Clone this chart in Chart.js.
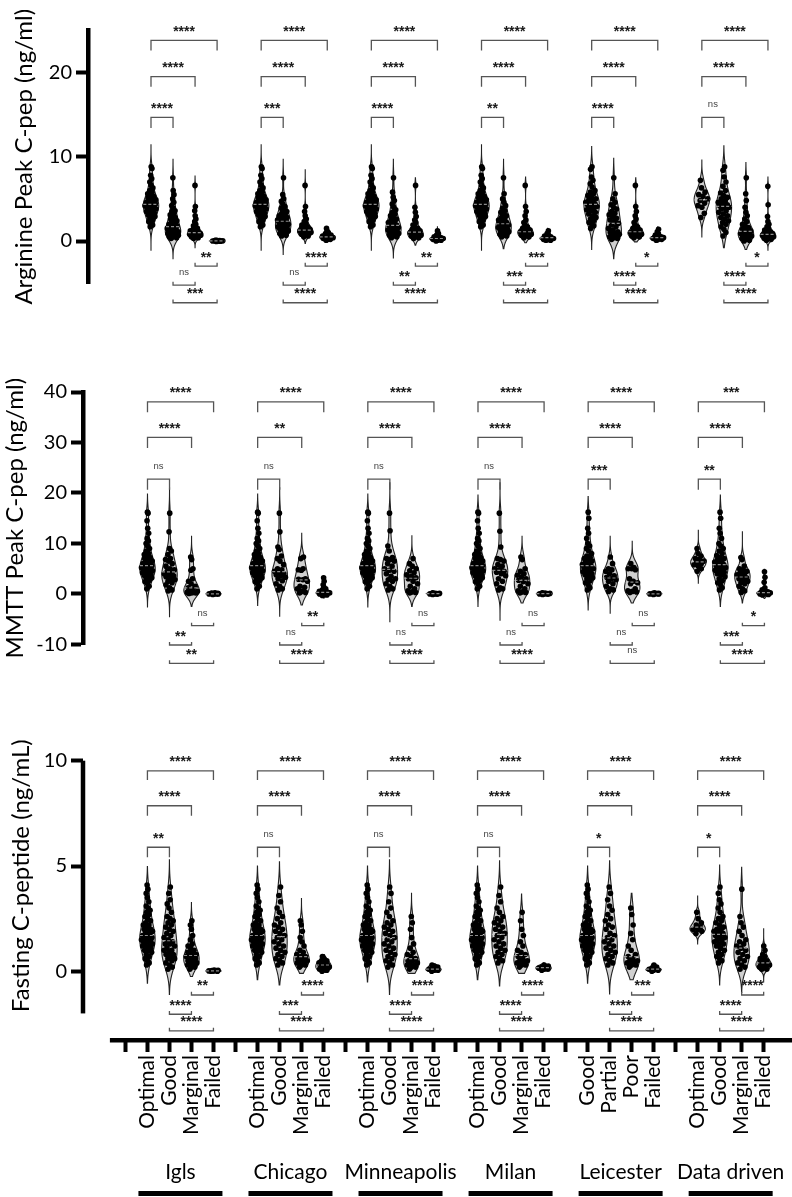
<!DOCTYPE html>
<html><head><meta charset="utf-8">
<script src="https://cdn.jsdelivr.net/npm/chart.js@4.4.1/dist/chart.umd.min.js"></script>
<style>
html,body{margin:0;padding:0;background:#fff;}
#wrap{position:relative;width:792px;height:1197px;overflow:hidden;background:#fff}
canvas{position:absolute;left:0}
</style></head><body>
<div id="wrap">
<canvas id="c1" width="792" height="325" style="top:0px"></canvas>
<canvas id="c2" width="792" height="355" style="top:325px"></canvas>
<canvas id="c3" width="792" height="517" style="top:680px"></canvas>
</div>
<script>
// ---------------- DATA ----------------
const siteNames = ['Igls', 'Chicago', 'Minneapolis', 'Milan', 'Leicester', 'Data driven'];
const tickLabels = ['', 'Optimal', 'Good', 'Marginal', 'Failed',
  '', 'Optimal', 'Good', 'Marginal', 'Failed',
  '', 'Optimal', 'Good', 'Marginal', 'Failed',
  '', 'Optimal', 'Good', 'Marginal', 'Failed',
  '', 'Good', 'Partial', 'Poor', 'Failed',
  '', 'Optimal', 'Good', 'Marginal', 'Failed'];
// significance order: [1v2, 1v3, 1v4, 3v4, 2v3, 2v4]
const argSig = [['****','****','****','**','ns','***'], ['***','****','****','****','ns','****'], ['****','****','****','**','**','****'],
  ['**','****','****','***','***','****'], ['****','****','****','*','****','****'], ['ns','****','****','*','****','****']];
const mmttSig = [['ns','****','****','ns','**','**'], ['ns','**','****','**','ns','****'], ['ns','****','****','ns','ns','****'],
  ['ns','****','****','ns','ns','****'], ['***','****','****','ns','ns','ns'], ['**','****','***','*','***','****']];
const fastSig = [['**','****','****','**','****','****'], ['ns','****','****','****','***','****'], ['ns','****','****','****','****','****'],
  ['ns','****','****','****','****','****'], ['*','****','****','***','****','****'], ['*','****','****','****','****','****']];

// Arginine peak C-peptide (ng/ml)
const argOptimal = [8.8,8.6,7.8,7.4,7.0,6.6,6.3,6.0,5.8,5.6,5.4,5.3,5.1,5.0,4.9,4.8,4.7,4.6,4.5,4.4,4.4,4.3,4.2,4.2,4.1,4.0,3.9,3.8,3.7,3.6,3.5,3.4,3.3,3.1,3.0,2.9,2.7,2.5,2.3,2.1,1.9,1.7];
const argIgls = [argOptimal,
  [7.5,6.0,5.5,5.0,4.6,4.2,3.9,3.6,3.5,3.3,3.1,3.0,2.8,2.6,2.5,2.4,2.2,2.1,2.0,1.9,1.8,1.7,1.6,1.5,1.4,1.3,1.2,1.2,1.1,1.0,1.0,0.9,0.9,0.8,0.8,0.7,0.7,0.6,0.6,0.5,0.5,0.4,0.3],
  [6.6,4.1,3.6,3.0,2.6,2.3,2.0,1.8,1.6,1.5,1.4,1.3,1.2,1.1,1.1,1.0,1.0,0.9,0.9,0.9,0.8,0.8,0.8,0.7,0.7,0.7,0.6,0.6,0.5,0.5,0.4,0.3],
  [0.1,0.08,0.05,0.05,0.03,0.02,0.01,0,0,0,-0.02,-0.05]];
const argChicago = [argOptimal,
  [7.5,5.5,5.0,4.7,4.4,4.1,3.9,3.7,3.5,3.3,3.2,3.0,2.9,2.8,2.7,2.6,2.5,2.4,2.3,2.2,2.1,2.0,1.9,1.8,1.7,1.6,1.5,1.4,1.3,1.2,1.1,1.0,0.9,0.8,0.7,0.6],
  [6.6,4.1,3.5,3.0,2.6,2.3,2.1,1.9,1.8,1.7,1.6,1.5,1.4,1.3,1.3,1.2,1.2,1.1,1.1,1.0,1.0,0.9,0.9,0.8,0.7,0.6,0.5],
  [1.5,1.2,1.0,0.9,0.8,0.7,0.7,0.6,0.6,0.5,0.5,0.5,0.4,0.4,0.4,0.3,0.3,0.2,0.2,0.1]];
const argMinneapolis = [argOptimal,
  [7.5,5.8,5.2,4.8,4.4,4.0,3.7,3.4,3.2,3.0,2.8,2.6,2.5,2.3,2.2,2.0,1.9,1.8,1.7,1.6,1.5,1.4,1.3,1.2,1.1,1.0,1.0,0.9,0.8,0.8,0.7,0.6,0.5,0.4],
  [6.6,4.0,3.4,2.9,2.5,2.2,1.9,1.7,1.5,1.4,1.3,1.2,1.1,1.0,1.0,0.9,0.9,0.8,0.8,0.7,0.7,0.6,0.6,0.5,0.4,0.3],
  [1.2,0.9,0.7,0.6,0.5,0.4,0.4,0.3,0.3,0.3,0.2,0.2,0.2,0.1,0.1,0.0]];
const argMilan = [argOptimal,
  [7.5,5.6,5.0,4.6,4.2,3.9,3.6,3.4,3.2,3.0,2.8,2.6,2.5,2.4,2.2,2.1,2.0,1.9,1.8,1.7,1.6,1.5,1.4,1.3,1.2,1.1,1.0,0.9,0.8,0.7,0.6,0.5],
  [6.6,4.1,3.5,3.0,2.5,2.2,1.9,1.7,1.5,1.4,1.3,1.2,1.1,1.1,1.0,1.0,0.9,0.9,0.8,0.8,0.7,0.7,0.6,0.5,0.4],
  [1.2,0.9,0.7,0.6,0.5,0.5,0.4,0.4,0.3,0.3,0.3,0.2,0.2,0.1,0.1]];
const argLeicester = [
  [8.8,8.5,7.6,7.2,6.8,6.4,6.0,5.8,5.6,5.4,5.2,5.0,4.9,4.8,4.6,4.5,4.4,4.3,4.2,4.1,4.0,3.9,3.7,3.6,3.4,3.2,3.0,2.8,2.6,2.4,2.2,2.0,1.8,1.5],
  [7.5,5.6,5.0,4.6,4.3,4.0,3.8,3.5,3.3,3.1,2.9,2.7,2.5,2.3,2.1,1.9,1.7,1.5,1.3,1.1,1.0,0.9,0.8,0.7,0.6,0.5,0.4,0.3,0.2],
  [6.6,4.1,3.5,3.0,2.6,2.2,1.9,1.7,1.5,1.4,1.3,1.2,1.1,1.0,1.0,0.9,0.9,0.8,0.8,0.7,0.7,0.6,0.6,0.5,0.4],
  [1.4,1.1,0.9,0.7,0.6,0.5,0.5,0.4,0.4,0.3,0.3,0.3,0.2,0.2,0.1]];
const argDataDriven = [
  [7.2,6.3,5.8,5.5,5.3,5.0,4.8,4.5,4.2,4.0,3.3,2.8],
  [8.8,8.4,7.6,7.0,6.5,6.0,5.7,5.4,5.2,5.0,4.8,4.6,4.5,4.3,4.2,4.1,4.0,3.8,3.6,3.4,3.2,3.0,2.8,2.6,2.4,2.2,2.0,1.7,1.4,1.0,0.6],
  [7.5,5.6,4.8,4.0,3.4,3.0,2.6,2.3,2.0,1.8,1.6,1.4,1.3,1.2,1.1,1.0,0.9,0.8,0.8,0.7,0.6,0.6,0.5,0.4,0.3,0.2,0.1,0.0],
  [6.5,4.3,2.9,2.3,2.0,1.7,1.5,1.3,1.2,1.1,1.0,0.9,0.9,0.8,0.8,0.7,0.7,0.6,0.6,0.5,0.5,0.4,0.4,0.3,0.3,0.2,0.1]];
const argSpan = [
  [[-1.1,11.4],[-2.1,9.7],[-0.8,7.7],[-0.15,0.15]],
  [[-1.1,11.4],[-1.6,9.7],[-0.3,8.5],[-0.1,1.7]],
  [[-1.1,11.4],[-2.0,9.7],[-0.5,7.5],[-0.1,1.7]],
  [[-1.1,11.4],[-0.9,9.7],[-0.2,7.6],[-0.1,1.5]],
  [[-1.0,11.2],[-2.1,9.8],[-0.1,7.5],[-0.1,1.7]],
  [[0.5,9.6],[-0.8,11.3],[-1.0,9.3],[-1.1,7.6]]];

// MMTT peak C-peptide (ng/ml)
const mmttOptimal = [16.2,16.0,14.5,13.0,12.0,11.0,10.5,10.0,9.5,9.0,8.5,8.0,7.8,7.5,7.2,7.0,6.8,6.5,6.3,6.1,6.0,5.8,5.6,5.5,5.4,5.2,5.0,5.0,4.9,4.8,4.6,4.5,4.4,4.2,4.0,3.8,3.6,3.4,3.2,3.0,2.7,2.4,2.0,1.5,1.0];
const mmttIgls = [mmttOptimal,
  [16.0,12.3,9.0,8.5,7.8,7.0,6.8,6.5,6.0,5.5,5.0,4.8,4.5,4.2,4.0,3.8,3.6,3.4,3.0,2.8,2.5,2.2,1.8,1.2,0.8,0.6],
  [7.3,6.8,5.0,4.7,3.0,2.5,2.0,1.5,1.2,0.8,0.5,0.4,0.3,0.3,0.2,0.2,0.1],
  [0.2,0.1,0.1,0.05,0,0,0,-0.1,0.15,0.0]];
const mmttChicago = [mmttOptimal,
  [16.0,12.3,9.3,8.8,7.5,7.0,6.5,5.8,5.0,4.8,4.5,4.3,4.0,3.8,3.6,3.3,3.0,2.6,2.0,1.5,1.0,0.8],
  [7.3,7.0,5.0,4.8,4.7,3.0,2.9,2.8,2.5,1.5,1.3,1.0,0.5,0.3,0.2],
  [3.2,2.5,1.8,1.3,1.0,0.8,0.6,0.5,0.4,0.3,0.3,0.2,0.2,0.1,0.1,0.0,0.0,-0.2,-0.3]];
const mmttMinneapolis = [mmttOptimal,
  [16.0,12.5,9.5,8.5,7.2,7.0,6.8,6.5,6.0,5.5,5.0,4.7,4.5,4.0,3.5,3.0,2.8,2.5,2.0,1.5,1.0,0.8],
  [7.0,6.0,5.5,5.0,4.6,4.2,3.8,3.5,3.2,3.0,2.5,2.0,1.5,1.0,0.6,0.4,0.3,0.2],
  [0.2,0.1,0.1,0.05,0,0,-0.05,-0.1,0.1]];
const mmttMilan = [mmttOptimal,
  [16.0,12.4,9.3,7.0,6.8,6.5,5.8,5.5,5.0,4.8,4.5,4.3,4.0,3.6,3.0,2.5,2.0,1.2,1.0,0.8],
  [7.3,6.8,5.0,4.5,4.0,3.7,3.4,3.0,2.7,2.4,2.0,1.5,1.0,0.6,0.4,0.3,0.2],
  [0.2,0.15,0.1,0.05,0,0,-0.05,-0.1,0.1]];
const mmttLeicester = [
  [16.2,15.0,13.0,12.0,11.0,10.0,9.5,9.0,8.5,8.0,7.5,7.2,7.0,6.8,6.5,6.2,6.0,5.8,5.6,5.4,5.2,5.0,5.0,4.8,4.6,4.4,4.2,4.0,3.8,3.5,3.2,3.0,2.6,2.2,1.8,1.2,0.8],
  [7.3,6.0,5.0,4.8,4.5,4.0,3.6,3.3,3.0,2.8,2.5,2.0,1.5,1.0,0.8,0.5],
  [6.0,5.2,5.0,5.0,4.8,3.0,2.5,2.2,2.0,1.0,0.6,0.5,0.4,0.3],
  [0.2,0.1,0.1,0,0,0,-0.1,0.05]];
const mmttDataDriven = [
  [9.0,8.0,7.5,7.0,6.8,6.5,6.2,6.0,5.8,5.5,5.0,4.5],
  [16.2,15.0,13.0,12.0,11.0,10.0,9.5,9.0,8.5,8.0,7.6,7.2,7.0,6.8,6.5,6.3,6.0,5.8,5.6,5.4,5.2,5.0,4.9,4.7,4.5,4.3,4.0,3.7,3.4,3.0,2.6,2.2,1.8,1.2,0.8],
  [7.2,6.8,5.5,5.0,4.7,4.5,4.2,4.0,3.8,3.5,3.2,3.0,2.8,2.5,2.2,2.0,1.5,1.0,0.6,0.3],
  [4.4,3.3,2.3,1.2,0.8,0.5,0.4,0.3,0.2,0.2,0.1,0.1,0.0,0.0,-0.1,-0.2]];
const mmttSpan = [
  [[-2.6,19.8],[-4.5,21],[-2.5,11.4],[-0.3,0.3]],
  [[-2.3,19.8],[-4.4,21],[-2.2,12],[-0.8,3.5]],
  [[-2.6,19.8],[-5.5,22],[-2.5,11.5],[-0.3,0.3]],
  [[-2.5,19.6],[-5.2,22],[-1.8,11.4],[-0.3,0.3]],
  [[-3.2,19.3],[-3.8,11.4],[-1.8,10.4],[-0.3,0.3]],
  [[2.1,12.7],[-2.5,19.6],[-1.8,12.4],[-0.9,4.9]]];

// Fasting C-peptide (ng/mL)
const fastOptimal = [4.1,3.9,3.7,3.5,3.3,3.1,3.0,2.9,2.8,2.7,2.6,2.5,2.4,2.3,2.2,2.2,2.1,2.0,2.0,1.9,1.9,1.8,1.8,1.7,1.7,1.6,1.6,1.6,1.5,1.5,1.5,1.4,1.4,1.3,1.3,1.2,1.2,1.1,1.1,1.0,1.0,0.9,0.8,0.7,0.6,0.5,0.4,0.3];
const fastIgls = [fastOptimal,
  [4.0,3.7,3.4,3.2,3.0,2.8,2.6,2.5,2.4,2.3,2.2,2.1,2.0,1.9,1.8,1.7,1.6,1.5,1.4,1.3,1.3,1.2,1.1,1.0,1.0,0.9,0.8,0.8,0.7,0.6,0.6,0.5,0.4,0.3,0.2,0.1],
  [2.4,2.2,2.0,1.7,1.5,1.3,1.2,1.1,1.0,0.9,0.9,0.8,0.8,0.7,0.7,0.6,0.6,0.5,0.5,0.4,0.4,0.3,0.3,0.2,0.2,0.1],
  [0.06,0.05,0.04,0.03,0.02,0.01,0.0,0.0]];
const fastChicago = [fastOptimal,
  [4.0,3.6,3.3,3.0,2.8,2.6,2.5,2.3,2.2,2.1,2.0,1.9,1.8,1.7,1.6,1.5,1.4,1.3,1.2,1.1,1.0,0.9,0.8,0.7,0.6,0.5,0.4,0.3],
  [2.4,2.2,1.9,1.6,1.4,1.2,1.0,0.9,0.8,0.7,0.7,0.6,0.6,0.5,0.5,0.4,0.4,0.3,0.3,0.2],
  [0.7,0.6,0.5,0.5,0.4,0.4,0.35,0.3,0.3,0.25,0.2,0.2,0.15,0.1,0.1,0.05,0.0]];
const fastMinneapolis = [fastOptimal,
  [4.0,3.7,3.3,3.0,2.8,2.6,2.4,2.3,2.2,2.1,2.0,1.9,1.8,1.7,1.6,1.5,1.4,1.3,1.2,1.1,1.0,0.9,0.8,0.7,0.6,0.5,0.4,0.3,0.2],
  [2.6,2.3,2.0,1.6,1.3,1.1,0.9,0.8,0.7,0.6,0.5,0.5,0.4,0.4,0.3,0.3,0.2,0.2,0.1],
  [0.3,0.25,0.2,0.15,0.1,0.1,0.05,0.05,0.0]];
const fastMilan = [fastOptimal,
  [4.0,3.6,3.3,3.0,2.8,2.6,2.5,2.4,2.3,2.2,2.1,2.0,1.9,1.8,1.7,1.6,1.5,1.4,1.3,1.2,1.1,1.0,0.9,0.8,0.7,0.6,0.5,0.4],
  [2.8,2.4,2.0,1.7,1.4,1.2,1.0,0.9,0.8,0.7,0.6,0.5,0.5,0.4,0.4,0.3,0.3,0.2],
  [0.3,0.25,0.2,0.2,0.15,0.1,0.1,0.05]];
const fastLeicester = [fastOptimal,
  [4.0,3.7,3.4,3.1,2.9,2.7,2.5,2.4,2.2,2.1,2.0,1.8,1.7,1.6,1.5,1.4,1.3,1.2,1.1,1.0,0.9,0.8,0.7,0.6,0.5,0.4,0.3],
  [3.0,2.7,2.2,1.8,1.5,1.2,1.0,0.8,0.7,0.6,0.5,0.5,0.4,0.4,0.3,0.3,0.2],
  [0.3,0.2,0.15,0.1,0.1,0.05,0.05,0.0]];
const fastDataDriven = [
  [2.8,2.5,2.3,2.2,2.1,2.0,2.0,1.9,1.8],
  [4.0,3.7,3.4,3.2,3.0,2.8,2.6,2.5,2.4,2.3,2.2,2.1,2.0,2.0,1.9,1.8,1.8,1.7,1.6,1.6,1.5,1.5,1.4,1.3,1.3,1.2,1.1,1.0,0.9,0.8,0.7,0.6,0.5,0.4],
  [3.9,2.6,2.3,2.1,1.9,1.7,1.5,1.4,1.3,1.2,1.1,1.0,0.9,0.8,0.7,0.6,0.5,0.4,0.3,0.2,0.1],
  [1.2,1.0,0.8,0.7,0.6,0.5,0.5,0.4,0.4,0.3,0.3,0.3,0.2,0.2,0.1,0.1]];
const fastSpan = [
  [[-0.57,4.97],[-1.1,5.3],[-0.25,3.26],[-0.05,0.1]],
  [[-0.4,5.0],[-0.65,5.2],[-0.1,3.46],[-0.05,0.8]],
  [[-0.5,5.0],[-1.1,5.3],[-0.1,3.7],[-0.05,0.35]],
  [[-0.4,5.0],[-0.7,5.25],[-0.1,3.67],[0.0,0.4]],
  [[-0.57,5.0],[-1.08,5.25],[-0.4,3.7],[0.0,0.35]],
  [[1.3,3.6],[-0.65,5.05],[-1.0,4.94],[-0.5,2.04]]];

// ---------------- STYLE / LAYOUT ----------------
Chart.defaults.font.family = "Lato, 'Liberation Sans', sans-serif";
Chart.defaults.color = '#000';
const MAX_HALF = 0.35;          // violin half width, in slot units
const PAIRS = [[0,1],[0,2],[0,3],[2,3],[1,2],[1,3]];
const SIG_FONT = "bold 14px 'Liberation Sans', Arial, sans-serif";
const NS_FONT = "9.5px 'Liberation Sans', Arial, sans-serif";

function violinShape(vals, lo, hi) {
  const n = vals.length;
  const sorted = [...vals].sort((a, b) => a - b);
  const mean = vals.reduce((a, b) => a + b, 0) / n;
  const sd = Math.sqrt(vals.reduce((a, b) => a + (b - mean) ** 2, 0) / Math.max(1, n - 1));
  const q = p => { const i = (n - 1) * p, f = Math.floor(i); const c = Math.min(f + 1, n - 1); return sorted[f] + (sorted[c] - sorted[f]) * (i - f); };
  const iqr = q(0.75) - q(0.25);
  let h = 1.0 * Math.min(sd, iqr > 0 ? iqr / 1.34 : sd) * Math.pow(n, -0.2);
  h = Math.max(h, (hi - lo) * 0.03, 1e-3);
  const N = 160, prof = [];
  let max = 0;
  for (let k = 0; k <= N; k++) {
    const y = lo + (hi - lo) * k / N;
    let d = 0;
    for (const v of vals) { const z = (y - v) / h; d += Math.exp(-0.5 * z * z); }
    prof.push({ y, d }); if (d > max) max = d;
  }
  prof.forEach(p => p.w = MAX_HALF * p.d / max);
  return { prof, lo, hi, median: q(0.5), sorted };
}
function widthAt(v, y) {
  const p = v.prof; const t = (y - v.lo) / (v.hi - v.lo) * (p.length - 1);
  const i = Math.max(0, Math.min(p.length - 2, Math.floor(t)));
  const f = Math.max(0, Math.min(1, t - i));
  return p[i].w + (p[i + 1].w - p[i].w) * f;
}

function buildPanel(sites, spans) {
  const groups = [], pts = [];
  sites.forEach((four, s) => four.forEach((vals, g) => {
    const slot = s * 5 + 1 + g;
    const [lo, hi] = spans[s][g];
    const v = violinShape(vals, lo, hi);
    v.slot = slot; groups.push(v);
    v.sorted.forEach((y, i) => {
      const j = ((i * 0.6180339887 + 0.27) % 1) * 2 - 1;
      pts.push({ x: slot + j * 0.8 * widthAt(v, y), y });
    });
  }));
  return { groups, pts };
}

function panelPlugin(panel, sig, levels, extra) {
  return {
    id: 'panel',
    beforeDatasetsDraw(chart) {
      const { ctx } = chart, xs = chart.scales.x, ys = chart.scales.y;
      ctx.save();
      panel.groups.forEach(v => {
        ctx.beginPath();
        v.prof.forEach((p, i) => {
          const px = xs.getPixelForValue(v.slot + p.w), py = ys.getPixelForValue(p.y);
          i ? ctx.lineTo(px, py) : ctx.moveTo(px, py);
        });
        for (let i = v.prof.length - 1; i >= 0; i--) {
          const p = v.prof[i];
          ctx.lineTo(xs.getPixelForValue(v.slot - p.w), ys.getPixelForValue(p.y));
        }
        ctx.closePath();
        ctx.fillStyle = '#d0d0d0'; ctx.fill();
        ctx.strokeStyle = '#222'; ctx.lineWidth = 1.1; ctx.stroke();
      });
      ctx.restore();
    },
    afterDatasetsDraw(chart) {
      const { ctx } = chart, xs = chart.scales.x, ys = chart.scales.y;
      ctx.save();
      panel.groups.forEach(v => {
        const w = widthAt(v, v.median);
        ctx.beginPath(); ctx.setLineDash([3, 2]); ctx.lineWidth = 1.2; ctx.strokeStyle = 'rgba(200,200,200,0.7)';
        ctx.moveTo(xs.getPixelForValue(v.slot - w), ys.getPixelForValue(v.median));
        ctx.lineTo(xs.getPixelForValue(v.slot + w), ys.getPixelForValue(v.median));
        ctx.stroke();
      });
      ctx.setLineDash([]);
      sig.forEach((labs, s) => labs.forEach((lab, k) => {
        const [a, b] = PAIRS[k];
        const x1 = xs.getPixelForValue(s * 5 + 1 + a), x2 = xs.getPixelForValue(s * 5 + 1 + b);
        const L = levels[k];
        const yb = ys.getPixelForValue(L[0]), yl = ys.getPixelForValue(L[1]);
        ctx.beginPath(); ctx.strokeStyle = '#555'; ctx.lineWidth = 1.3;
        ctx.moveTo(x1, yl); ctx.lineTo(x1, yb); ctx.lineTo(x2, yb); ctx.lineTo(x2, yl); ctx.stroke();
        ctx.textAlign = 'center'; ctx.textBaseline = 'alphabetic';
        if (lab === 'ns') { ctx.font = NS_FONT; ctx.fillStyle = '#444'; ctx.fillText(lab, (x1 + x2) / 2, yb - 10); }
        else { ctx.font = SIG_FONT; ctx.fillStyle = '#1a1a1a'; ctx.fillText(lab, (x1 + x2) / 2, yb - 4.5); }
      }));
      ctx.restore();
    },
    afterDraw(chart) { if (extra) extra(chart); }
  };
}

function bottomExtras(chart) {
  const { ctx, chartArea } = chart, xs = chart.scales.x, ys = chart.scales.y;
  ctx.save();
  ctx.fillStyle = '#000';
  const yTop = ys.getPixelForValue(10), yBot = ys.getPixelForValue(-2);
  ctx.fillRect(chartArea.left - 2.25, yTop, 4.5, yBot - yTop);
  ctx.fillRect(xs.getPixelForValue(-0.705), chartArea.bottom - 2, 792, 4.5);
  ctx.font = "21px Lato, 'Liberation Sans', sans-serif";
  ctx.textAlign = 'center'; ctx.textBaseline = 'middle';
  siteNames.forEach((name, s) => {
    const cx = xs.getPixelForValue(s * 5 + 2.5);
    ctx.fillText(name, cx, 492);
    ctx.fillRect(cx - 42, 511, 84, 5);
  });
  ctx.restore();
}

function makeChart(id, panel, o) {
  const yScale = {
    type: 'linear', min: o.yMin, max: o.yMax,
    afterBuildTicks: s => { s.ticks = o.yTicks.map(v => ({ value: v })); },
    afterFit: s => { s.width = o.yWidth; },
    ticks: { font: { size: 20 }, color: '#000', padding: 4 },
    grid: { drawOnChartArea: false, drawTicks: true, tickLength: 12, tickWidth: 4, tickColor: '#000' },
    border: { display: o.yBorder, width: 4.5, color: '#000' },
    title: { display: true, text: o.title, font: { size: 24 }, color: '#000', padding: { top: o.titlePad, bottom: 0 } }
  };
  const xScale = o.xAxis ? {
    type: 'linear', min: o.xMin, max: o.xMax,
    afterBuildTicks: s => { s.ticks = tickLabels.map((_, i) => ({ value: i })); },
    afterFit: s => { s.height = o.xHeight; },
    ticks: { autoSkip: false, minRotation: 90, maxRotation: 90, font: { size: 21 }, color: '#000', padding: 3,
      callback: v => tickLabels[v] !== undefined ? tickLabels[v] : '' },
    grid: { drawOnChartArea: false, drawTicks: true, tickLength: 12, tickWidth: 4, tickColor: '#000' },
    border: { display: false }
  } : { type: 'linear', min: o.xMin, max: o.xMax, display: false };
  return new Chart(document.getElementById(id), {
    type: 'scatter',
    data: { datasets: [{ data: panel.pts, pointRadius: 2.8, pointBackgroundColor: '#000', pointBorderWidth: 0, clip: false }] },
    options: {
      responsive: false, animation: false, devicePixelRatio: 1, events: [],
      layout: { padding: { top: o.padTop, bottom: o.padBottom, left: 0, right: 0 } },
      plugins: { legend: { display: false }, tooltip: { enabled: false } },
      scales: { x: xScale, y: yScale }
    },
    plugins: [panelPlugin(panel, o.sig, o.levels, o.extra)]
  });
}

const argPanel = buildPanel([argIgls, argChicago, argMinneapolis, argMilan, argLeicester, argDataDriven], argSpan);
const mmttPanel = buildPanel([mmttIgls, mmttChicago, mmttMinneapolis, mmttMilan, mmttLeicester, mmttDataDriven], mmttSpan);
const fastPanel = buildPanel([fastIgls, fastChicago, fastMinneapolis, fastMilan, fastLeicester, fastDataDriven], fastSpan);

makeChart('c1', argPanel, {
  yMin: -5, yMax: 25, yTicks: [0, 10, 20], yWidth: 88, yBorder: true, title: 'Arginine Peak C-pep (ng/ml)', titlePad: 10,
  xMin: -1.859, xMax: 29.91, xAxis: false, padTop: 30.25, padBottom: 41.8, sig: argSig,
  levels: [[14.67, 13.4], [19.5, 18.3], [23.8, 22.6], [-2.97, -2.57], [-5.22, -4.83], [-7.32, -6.92]]
});
makeChart('c2', mmttPanel, {
  yMin: -10, yMax: 40, yTicks: [-10, 0, 10, 20, 30, 40], yWidth: 83, yBorder: true, title: 'MMTT Peak C-pep (ng/ml)', titlePad: 1,
  xMin: -1.927, xMax: 30.07, xAxis: false, padTop: 67, padBottom: 35.6, sig: mmttSig,
  levels: [[22.76, 20.63], [31.0, 28.9], [38.04, 36.0], [-6.29, -5.69], [-10.12, -9.52], [-13.75, -13.15]]
});
makeChart('c3', fastPanel, {
  yMin: -3.262, yMax: 10, yTicks: [0, 5, 10], yWidth: 83, yBorder: false,
  title: '\u00a0\u00a0\u00a0\u00a0\u00a0\u00a0\u00a0\u00a0Fasting C-peptide (ng/mL)', titlePad: 7,
  xMin: -1.927, xMax: 30.07, xAxis: true, xHeight: 157, padTop: 80.7, padBottom: 0, sig: fastSig,
  levels: [[5.89, 5.41], [7.86, 7.39], [9.52, 9.08], [-1.125, -0.97], [-2.04, -1.89], [-2.83, -2.68]],
  extra: bottomExtras
});
</script>
</body></html>
